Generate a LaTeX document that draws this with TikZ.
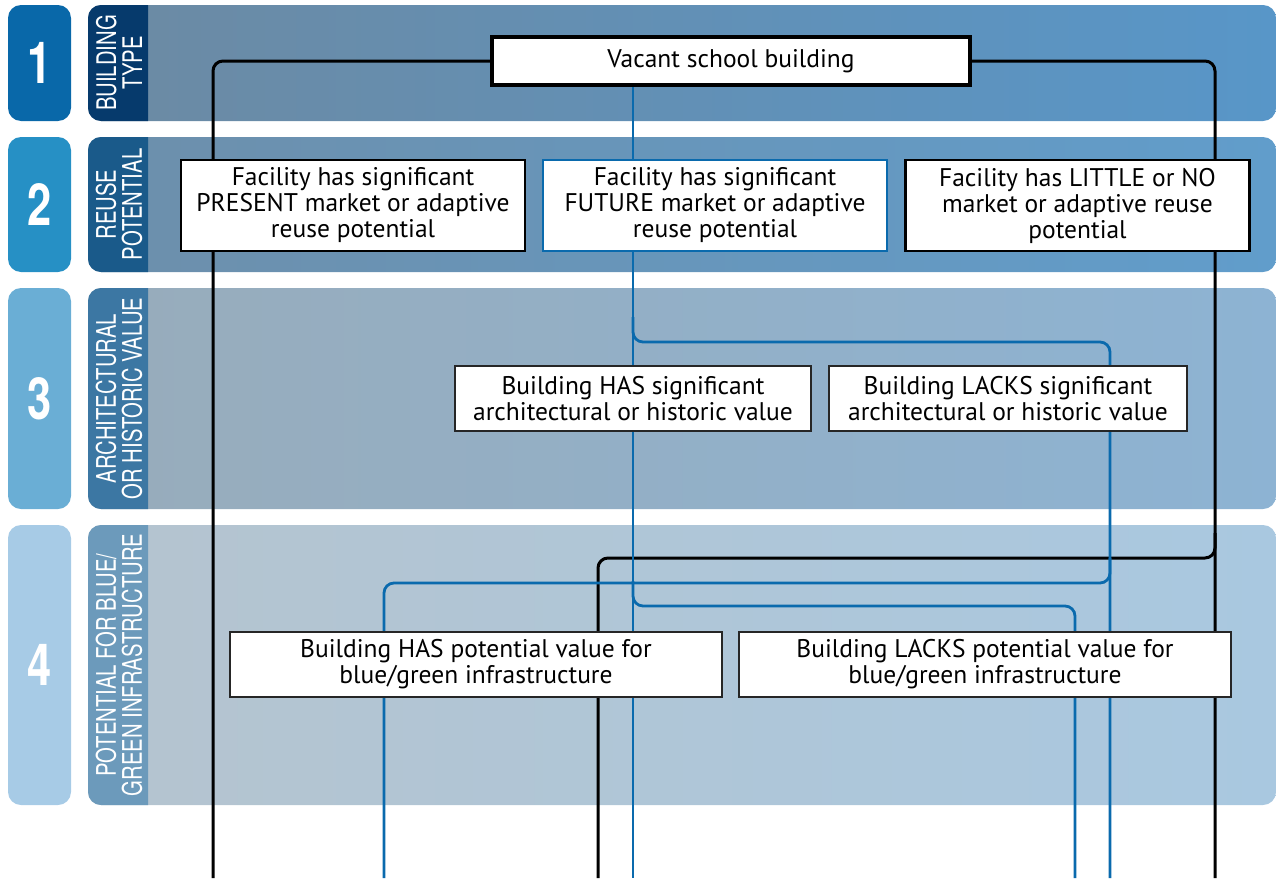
\documentclass[tikz,border=0pt]{standalone}
\usepackage{fontspec}
\setmainfont{PT Sans}
\newfontfamily\condfont[FakeStretch=0.75]{TeX Gyre Heros}
\usetikzlibrary{calc}
\pgfdeclarelayer{bands}
\pgfdeclarelayer{lines}
\pgfsetlayers{bands,lines,main}
\definecolor{numA}{HTML}{0968A9}
\definecolor{labA}{HTML}{063A6C}
\definecolor{bandAl}{HTML}{6C8AA3}
\definecolor{bandAr}{HTML}{5896C8}
\definecolor{numB}{HTML}{2690C5}
\definecolor{labB}{HTML}{1A5A8A}
\definecolor{bandBl}{HTML}{6D8FAB}
\definecolor{bandBr}{HTML}{619DCB}
\definecolor{numC}{HTML}{6AAED5}
\definecolor{labC}{HTML}{3C77A3}
\definecolor{bandCl}{HTML}{98ACBB}
\definecolor{bandCr}{HTML}{8DB3D3}
\definecolor{numD}{HTML}{A7CBE6}
\definecolor{labD}{HTML}{6C9ABB}
\definecolor{bandDl}{HTML}{B5C4CF}
\definecolor{bandDr}{HTML}{A9C8E0}
\definecolor{flowblue}{HTML}{0A6AAD}
\tikzset{
  numtxt/.style={text=white, font=\condfont\bfseries\fontsize{58}{58}\selectfont, inner sep=0pt},
  labtxt/.style={text=white, rotate=90, align=center, inner sep=0pt, font=\condfont\fontsize{27}{26}\selectfont},
  boxbase/.style={fill=white, align=center, inner sep=0pt, font=\fontsize{25.5}{26}\selectfont},
  topbox/.style={boxbase, draw=black, line width=3.2pt, minimum width=478pt, minimum height=48pt},
  reusebox/.style={boxbase, draw=black, line width=2.6pt, minimum width=344pt, minimum height=91pt},
  futurebox/.style={reusebox, draw=flowblue},
  thinbox/.style={boxbase, draw=black!85, line width=1.2pt, minimum height=65pt},
  blk/.style={draw=black, line width=3pt, rounded corners=10pt},
  blu/.style={draw=flowblue, line width=2.8pt, rounded corners=10pt}
}
\begin{document}
\begin{tikzpicture}[x=1pt, y=-1pt]
\useasboundingbox (0,0) rectangle (1276,878);
% ---------- bands ----------
\begin{pgfonlayer}{bands}
  % row 1
  \fill[numA, rounded corners=13pt] (8,5) rectangle (71,121);
  \shade[left color=bandAl, right color=bandAr, rounded corners=13pt] (88,5) rectangle (1276,121);
  \begin{scope}\clip (88,5) rectangle (148,121);
    \fill[labA, rounded corners=13pt] (88,5) rectangle (200,121);\end{scope}
  % row 2
  \fill[numB, rounded corners=13pt] (8,137) rectangle (71,272);
  \shade[left color=bandBl, right color=bandBr, rounded corners=13pt] (88,137) rectangle (1276,272);
  \begin{scope}\clip (88,137) rectangle (148,272);
    \fill[labB, rounded corners=13pt] (88,137) rectangle (200,272);\end{scope}
  % row 3
  \fill[numC, rounded corners=13pt] (8,288) rectangle (71,509);
  \shade[left color=bandCl, right color=bandCr, rounded corners=13pt] (88,288) rectangle (1276,509);
  \begin{scope}\clip (88,288) rectangle (148,509);
    \fill[labC, rounded corners=13pt] (88,288) rectangle (200,509);\end{scope}
  % row 4
  \fill[numD, rounded corners=13pt] (8,525) rectangle (71,805);
  \shade[left color=bandDl, right color=bandDr, rounded corners=13pt] (88,525) rectangle (1276,805);
  \begin{scope}\clip (88,525) rectangle (148,805);
    \fill[labD, rounded corners=13pt] (88,525) rectangle (200,805);\end{scope}
\end{pgfonlayer}
% ---------- row labels ----------
\node[numtxt] (n1) at (39.5,63) {1};
\node[numtxt] (n2) at (39.5,204.5) {2};
\node[numtxt] (n3) at (39.5,398.5) {3};
\node[numtxt] (n4) at (39.5,665) {4};
\node[labtxt] (l1) at (119,63) {BUILDING\\TYPE};
\node[labtxt] (l2) at (119,204.5) {REUSE\\POTENTIAL};
\node[labtxt] (l3) at (119,398.5) {ARCHITECTURAL\\OR HISTORIC VALUE};
\node[labtxt] (l4) at (119,665) {POTENTIAL FOR BLUE/\\GREEN INFRASTRUCTURE};
% ---------- boxes ----------
\node[topbox] (vac) at (731,61) {Vacant school building};
\node[reusebox] (present) at (353,205.5) {Facility has significant\\PRESENT market or adaptive\\reuse potential};
\node[futurebox] (future) at (715,205.5) {Facility has significant\\FUTURE market or adaptive\\reuse potential};
\node[reusebox] (little) at (1077.5,205.5) {Facility has LITTLE or NO\\market or adaptive reuse\\potential};
\node[thinbox, minimum width=356pt] (hassig) at (633,398.5) {Building HAS significant\\architectural or historic value};
\node[thinbox, minimum width=358pt] (lackssig) at (1008,398.5) {Building LACKS significant\\architectural or historic value};
\node[thinbox, minimum width=492pt] (haspot) at (476,664.5) {Building HAS potential value for\\blue/green infrastructure};
\node[thinbox, minimum width=492pt] (lackspot) at (985,664.5) {Building LACKS potential value for\\blue/green infrastructure};
% ---------- connector coordinates ----------
\coordinate (endA) at (213,878);
\coordinate (endB) at (1215,878);
\coordinate (brC) at (1215,558);
\coordinate (endC) at (598,878);
\coordinate (endD) at (633,878);
\coordinate (brE) at (633,342);
\coordinate (endE) at (1110,878);
\coordinate (brF) at (1110,583);
\coordinate (endF) at (384,878);
\coordinate (brG) at (633,606);
\coordinate (endG) at (1075,878);
% ---------- connectors ----------
\begin{pgfonlayer}{lines}
  \draw[blk] (vac.west) -| (endA);
  \draw[blk] (vac.east) -| (endB);
  \draw[blk] ($(brC)+(0,-25)$) -- (brC) -| (endC);
  \draw[blu] (vac.south -| endD) -- (endD);
  \draw[blu] ($(brE)+(0,-25)$) -- (brE) -| (endE);
  \draw[blu] ($(brF)+(0,-25)$) -- (brF) -| (endF);
  \draw[blu] ($(brG)+(0,-25)$) -- (brG) -| (endG);
\end{pgfonlayer}
\end{tikzpicture}
\end{document}
